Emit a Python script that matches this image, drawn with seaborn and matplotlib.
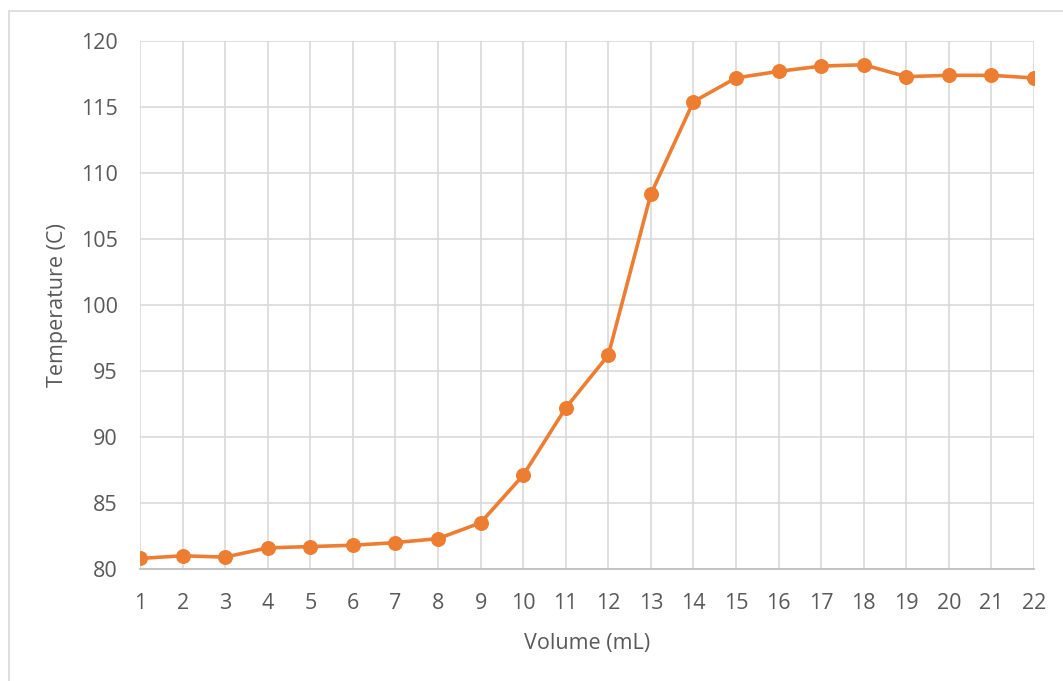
import numpy as np
import pandas as pd
import seaborn as sns
import matplotlib.pyplot as plt
from matplotlib.patches import Rectangle

# dados
volume = list(range(1, 23))
temperatura = [80.8, 81.0, 80.9, 81.6, 81.7, 81.8, 82.0, 82.3, 83.5, 87.1, 92.2,
               96.2, 108.4, 115.4, 117.2, 117.7, 118.1, 118.2, 117.3, 117.4, 117.4, 117.2]

df = pd.DataFrame({'Volume': volume, 'Temperatura': temperatura})

sns.set_style('white')
plt.rcParams['font.family'] = ['Open Sans', 'DejaVu Sans']

fig = plt.figure(figsize=(10.63, 6.81), dpi=100)
ax = fig.add_axes([140/1063, 1 - 569/681, (1034 - 140)/1063, (569 - 41)/681])

# borda externa do gráfico
fig.patches.append(Rectangle((9/1063, -0.1), 1.2, 1 - 11/681 + 0.1, transform=fig.transFigure,
                             fill=False, edgecolor='#d9d9d9', linewidth=1.2))

sns.lineplot(data=df, x='Volume', y='Temperatura', ax=ax, color='#ED7D31',
             linewidth=2.6, marker='o', markersize=10, markeredgecolor='#ED7D31',
             zorder=3)

ax.set_xlim(1, 22)
ax.set_ylim(80, 120)
ax.set_xticks(volume)
ax.set_yticks(np.arange(80, 121, 5))
ax.grid(True, color='#d9d9d9', linewidth=1.2)
ax.set_axisbelow(True)
for s in ['top', 'right', 'left']:
    ax.spines[s].set_visible(False)
ax.spines['bottom'].set_color('#bfbfbf')
ax.spines['bottom'].set_linewidth(1.3)
ax.tick_params(axis='both', length=0, labelsize=15.5, colors='#595959')
ax.tick_params(axis='x', pad=17)
ax.tick_params(axis='y', pad=16)

ax.set_xlabel('Volume (mL)', fontsize=15.5, color='#595959', labelpad=14)
ax.set_ylabel('Temperature (C)', fontsize=15.5, color='#595959', labelpad=9)

plt.savefig('out.png', dpi=100)
